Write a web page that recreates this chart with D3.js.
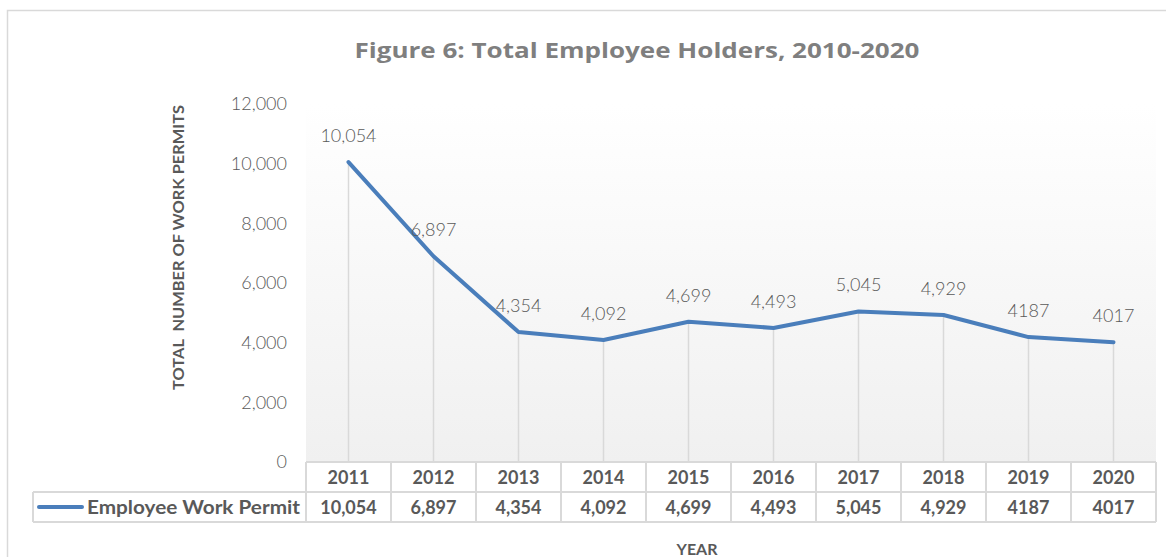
<!DOCTYPE html>
<html><head><meta charset="utf-8">
<script src="https://cdn.jsdelivr.net/npm/d3@7"></script>
<style>body{margin:0;background:#fff}svg{display:block}</style>
</head><body>
<svg id="chart" width="1166" height="557"></svg>
<script>
const years = ["2011","2012","2013","2014","2015","2016","2017","2018","2019","2020"];
const permits = [10054, 6897, 4354, 4092, 4699, 4493, 5045, 4929, 4187, 4017];
const tableLabels = ["10,054","6,897","4,354","4,092","4,699","4,493","5,045","4,929","4187","4017"];
const yTicks = [0, 2000, 4000, 6000, 8000, 10000, 12000];
const seriesName = "Employee Work Permit";
const title = "Figure 6: Total Employee Holders, 2010-2020";

(function () {
const svg = d3.select("#chart");
const pL = 306, pR = 1156, pT = 104, pB = 462;
const rowH = 30;
const fmt = d3.format(",");
const gray = "#595959", grid = "#d9d9d9", lineColor = "#4a7ebb";
const bodyFont = "Lato, 'Open Sans', sans-serif";

const x = d3.scaleBand().domain(years).range([pL, pR]);
const y = d3.scaleLinear().domain([0, 12000]).range([pB, pT]);

// outer border
svg.append("rect").attr("x", 7.5).attr("y", 10.5).attr("width", 1200).attr("height", 600)
  .attr("fill", "none").attr("stroke", grid).attr("stroke-width", 1.5);

// plot gradient
const defs = svg.append("defs");
const g = defs.append("linearGradient").attr("id", "bg").attr("x1", 0).attr("y1", 0).attr("x2", 0).attr("y2", 1);
g.append("stop").attr("offset", "0%").attr("stop-color", "#ffffff");
g.append("stop").attr("offset", "100%").attr("stop-color", "#f0f0f0");
svg.append("rect").attr("x", pL).attr("y", pT).attr("width", pR - pL).attr("height", pB - pT)
  .attr("fill", "url(#bg)");

// title
svg.append("text").attr("x", 637).attr("y", 58).attr("text-anchor", "middle")
  .attr("font-family", "'Open Sans', sans-serif").attr("font-weight", "bold").attr("font-size", 22)
  .attr("textLength", 565).attr("lengthAdjust", "spacingAndGlyphs")
  .attr("fill", "#7f7f7f").text(title);

// y axis (labels only)
const yAxis = d3.axisLeft(y).tickValues(yTicks).tickFormat(fmt).tickSize(0).tickPadding(19);
const ya = svg.append("g").attr("transform", `translate(${pL},0)`).call(yAxis);
ya.select(".domain").remove();
ya.selectAll("text").attr("font-family", bodyFont).attr("font-size", 18).attr("fill", gray)
  .attr("font-weight", 300);

// y title
svg.append("text").attr("transform", `translate(184,${(105 + 390) / 2}) rotate(-90)`)
  .attr("text-anchor", "middle").attr("font-family", bodyFont).attr("font-weight", "bold")
  .attr("font-size", 15).attr("fill", gray).attr("xml:space", "preserve")
  .attr("textLength", 285).attr("lengthAdjust", "spacingAndGlyphs")
  .text("TOTAL  NUMBER OF WORK PERMITS");

// drop lines
svg.append("g").selectAll("line").data(years).join("line")
  .attr("x1", d => x(d) + x.bandwidth() / 2).attr("x2", d => x(d) + x.bandwidth() / 2)
  .attr("y1", (d, i) => y(permits[i])).attr("y2", pB)
  .attr("stroke", grid).attr("stroke-width", 1.5);

// line
const line = d3.line().x((d, i) => x(years[i]) + x.bandwidth() / 2).y(d => y(d));
svg.append("path").datum(permits).attr("d", line).attr("fill", "none")
  .attr("stroke", lineColor).attr("stroke-width", 4).attr("stroke-linejoin", "round").attr("stroke-linecap", "round");

// data labels
svg.append("g").selectAll("text").data(permits).join("text")
  .attr("x", (d, i) => x(years[i]) + x.bandwidth() / 2)
  .attr("y", d => y(d) - 20)
  .attr("text-anchor", "middle").attr("font-family", bodyFont).attr("font-weight", 300)
  .attr("font-size", 18).attr("fill", gray)
  .text((d, i) => tableLabels[i].length === 4 ? String(d) : fmt(d));

// data table
const tbl = svg.append("g").attr("stroke", grid).attr("stroke-width", 2).attr("fill", "none");
tbl.append("line").attr("x1", pL).attr("x2", pR).attr("y1", pB).attr("y2", pB);
tbl.append("line").attr("x1", 33).attr("x2", pR).attr("y1", pB + rowH).attr("y2", pB + rowH);
tbl.append("line").attr("x1", 33).attr("x2", pR).attr("y1", pB + 2 * rowH).attr("y2", pB + 2 * rowH);
tbl.append("line").attr("x1", 33).attr("x2", 33).attr("y1", pB + rowH).attr("y2", pB + 2 * rowH);
tbl.selectAll("line.v").data(years.concat(["end"])).join("line").attr("class", "v")
  .attr("x1", d => d === "end" ? pR : x(d)).attr("x2", d => d === "end" ? pR : x(d))
  .attr("y1", pB).attr("y2", pB + 2 * rowH);

svg.append("g").selectAll("text").data(years).join("text")
  .attr("x", d => x(d) + x.bandwidth() / 2).attr("y", pB + 22)
  .attr("text-anchor", "middle").attr("font-family", bodyFont).attr("font-weight", "bold")
  .attr("font-size", 18).attr("fill", gray).text(d => d);

svg.append("g").selectAll("text").data(tableLabels).join("text")
  .attr("x", (d, i) => x(years[i]) + x.bandwidth() / 2).attr("y", pB + rowH + 22)
  .attr("text-anchor", "middle").attr("font-family", bodyFont).attr("font-weight", "bold")
  .attr("font-size", 18).attr("fill", gray).text(d => d);

// legend key in table
svg.append("line").attr("x1", 39).attr("x2", 82).attr("y1", pB + rowH + 15).attr("y2", pB + rowH + 15)
  .attr("stroke", lineColor).attr("stroke-width", 4).attr("stroke-linecap", "round");
svg.append("text").attr("x", 87).attr("y", pB + rowH + 22).attr("font-family", bodyFont)
  .attr("font-weight", "bold").attr("font-size", 18).attr("fill", gray)
  .attr("textLength", 213).attr("lengthAdjust", "spacingAndGlyphs").text(seriesName);

// x title
svg.append("text").attr("x", 697).attr("y", 555).attr("text-anchor", "middle")
  .attr("font-family", bodyFont).attr("font-weight", "bold").attr("font-size", 16)
  .attr("fill", gray).text("YEAR");
})();
</script>
</body></html>
